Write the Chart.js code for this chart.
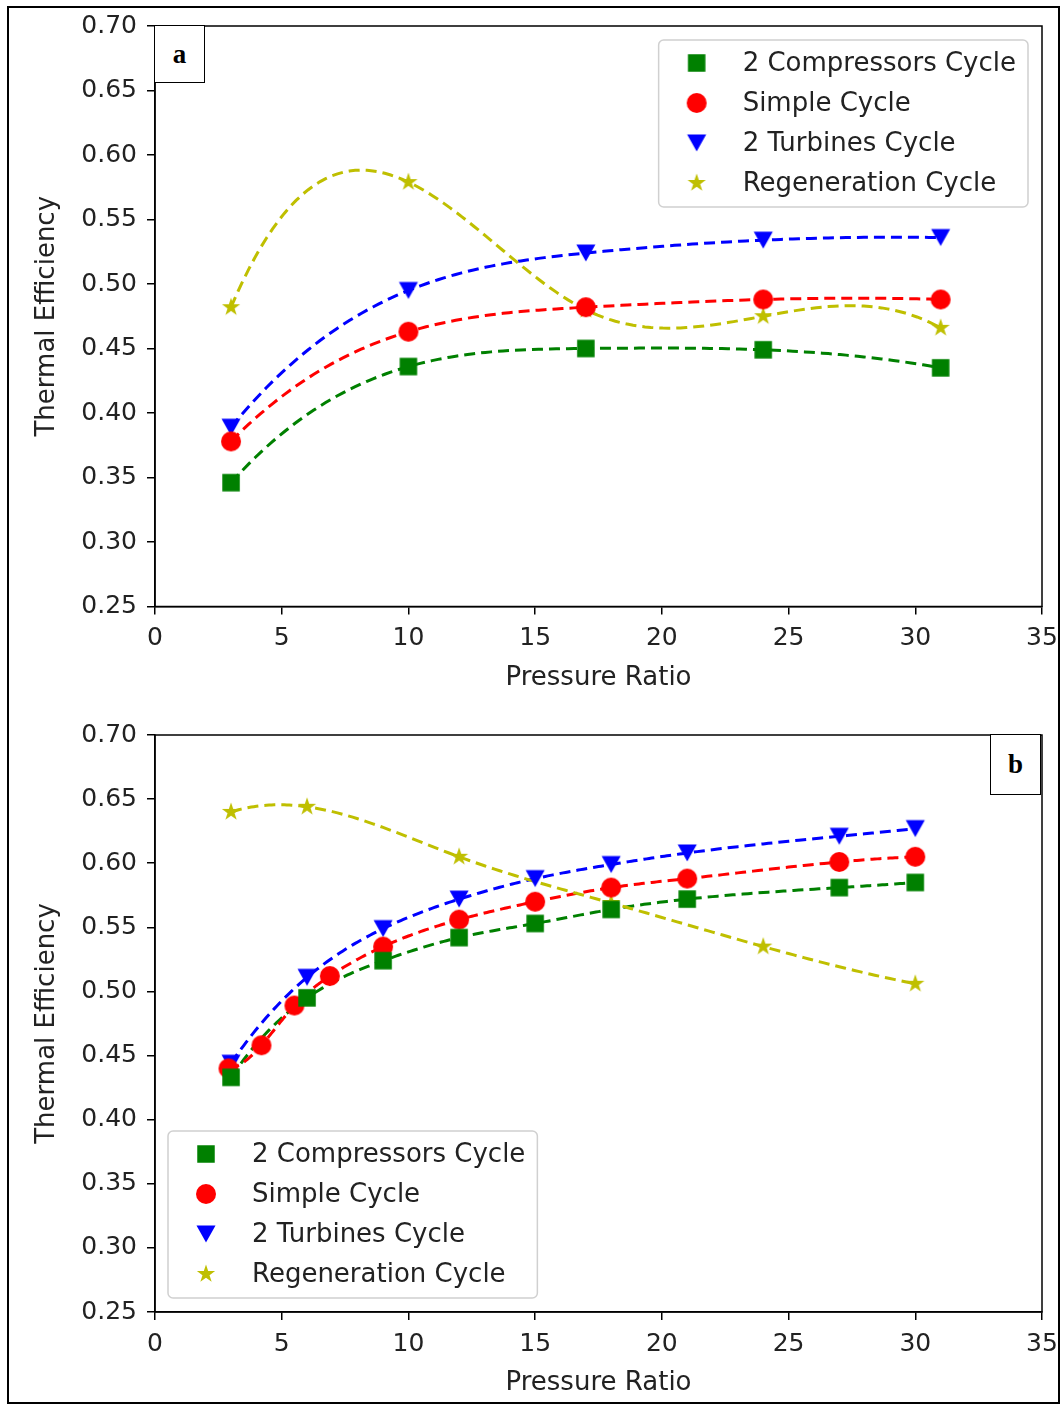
<!DOCTYPE html>
<html>
<head>
<meta charset="utf-8">
<script src="https://cdn.jsdelivr.net/npm/chart.js@4.4.0/dist/chart.umd.min.js"></script>
<style>
  body { margin: 0; background: #fff; }
  #wrap { position: relative; width: 1062px; height: 1406px; }
  #frame { position: absolute; left: 7px; top: 6px; width: 1053px; height: 1398px; border: 2px solid #000; box-sizing: border-box; }
  canvas { position: absolute; left: 0; }
  .tag { position: absolute; width: 51px; height: 58px; border: 1.5px solid #000; box-sizing: border-box; background: #fff;
         font: bold 27px "Liberation Serif", "Times New Roman", serif; display: flex; align-items: center; justify-content: center; }
</style>
</head>
<body>
<div id="wrap">
  <div id="frame"></div>
  <canvas id="chartA" width="1062" height="703" style="top:0"></canvas>
  <canvas id="chartB" width="1062" height="703" style="top:703px"></canvas>
  <div class="tag" style="left:154px; top:25px">a</div>
  <div class="tag" style="left:990px; top:734px; height:61px">b</div>
</div>
<script>
// panel a : pressure ratio / thermal efficiency
const pressureA = [3, 10, 17, 24, 31]
const compA    = [0.346, 0.436, 0.450, 0.449, 0.435]
const simpleA  = [0.378, 0.463, 0.482, 0.488, 0.488]
const turbA    = [0.389, 0.495, 0.524, 0.534, 0.536]
const regenA   = [0.482, 0.579, 0.480, 0.475, 0.466]

// panel b
const compXB   = [3, 6, 9, 12, 15, 18, 21, 27, 30]
const compB    = [0.433, 0.495, 0.524, 0.542, 0.553, 0.564, 0.572, 0.581, 0.585]
const simpleXB = [2.9, 4.2, 5.5, 6.9, 9, 12, 15, 18, 21, 27, 30]
const simpleB  = [0.440, 0.458, 0.489, 0.512, 0.535, 0.556, 0.570, 0.581, 0.588, 0.601, 0.605]
const turbXB   = [3, 6, 9, 12, 15, 18, 21, 27, 30]
const turbB    = [0.444, 0.511, 0.549, 0.572, 0.588, 0.599, 0.608, 0.621, 0.627]
const regenXB  = [3, 6, 12, 18, 24, 30]
const regenB   = [0.640, 0.644, 0.605, 0.569, 0.535, 0.506]

const labels = ['2 Compressors Cycle', 'Simple Cycle', '2 Turbines Cycle', 'Regeneration Cycle']
const colors = ['#008000', '#ff0000', '#0000ff', '#bfbf00']
const kinds  = ['square', 'circle', 'tri', 'star']

const FONT = 'DejaVu Sans'

function makeMarker(kind, color) {
  const c = document.createElement('canvas')
  c.width = 26; c.height = 26
  const g = c.getContext('2d')
  const m = 13
  g.fillStyle = color
  g.beginPath()
  if (kind === 'square') g.rect(m - 8.75, m - 8.75, 17.5, 17.5)
  else if (kind === 'circle') g.arc(m, m, 10, 0, Math.PI * 2)
  else if (kind === 'tri') { g.moveTo(m - 9.5, m - 8.5); g.lineTo(m + 9.5, m - 8.5); g.lineTo(m, m + 8.5); g.closePath() }
  else {
    for (let k = 0; k < 10; k++) {
      const r = k % 2 ? 3.7 : 9.6
      const a = -Math.PI / 2 + k * Math.PI / 5
      g.lineTo(m + r * Math.cos(a), m + r * Math.sin(a))
    }
    g.closePath()
  }
  g.fill()
  return c
}
const markers = kinds.map((k, i) => makeMarker(k, colors[i]))

const pts = (xs, ys) => xs.map((x, i) => ({x: x, y: ys[i]}))

function makeSets(series) {
  return series.map((s, i) => ({
    label: labels[i],
    data: pts(s[0], s[1]),
    pointStyle: markers[i],
    borderColor: colors[i],
    backgroundColor: colors[i],
    lineColor: colors[i]
  }))
}

// not-a-knot cubic spline second derivatives
function splineM(xs, ys) {
  const n = xs.length
  const h = []
  for (let i = 0; i < n - 1; i++) h.push(xs[i + 1] - xs[i])
  const A = [], b = []
  for (let i = 0; i < n; i++) { A.push(new Array(n).fill(0)); b.push(0) }
  if (n < 4) {
    A[0][0] = 1; A[n - 1][n - 1] = 1
  } else {
    A[0][0] = -h[1]; A[0][1] = h[0] + h[1]; A[0][2] = -h[0]
    A[n - 1][n - 3] = -h[n - 2]; A[n - 1][n - 2] = h[n - 3] + h[n - 2]; A[n - 1][n - 1] = -h[n - 3]
  }
  for (let i = 1; i < n - 1; i++) {
    A[i][i - 1] = h[i - 1]
    A[i][i] = 2 * (h[i - 1] + h[i])
    A[i][i + 1] = h[i]
    b[i] = 6 * ((ys[i + 1] - ys[i]) / h[i] - (ys[i] - ys[i - 1]) / h[i - 1])
  }
  for (let c = 0; c < n; c++) {
    let p = c
    for (let r = c + 1; r < n; r++) if (Math.abs(A[r][c]) > Math.abs(A[p][c])) p = r
    ;[A[c], A[p]] = [A[p], A[c]]; [b[c], b[p]] = [b[p], b[c]]
    for (let r = c + 1; r < n; r++) {
      const f = A[r][c] / A[c][c]
      for (let k = c; k < n; k++) A[r][k] -= f * A[c][k]
      b[r] -= f * b[c]
    }
  }
  const M = new Array(n).fill(0)
  for (let r = n - 1; r >= 0; r--) {
    let s = b[r]
    for (let k = r + 1; k < n; k++) s -= A[r][k] * M[k]
    M[r] = s / A[r][r]
  }
  return M
}

const splinePlugin = {
  id: 'splineLines',
  beforeDatasetsDraw(chart) {
    const ctx = chart.ctx
    chart.data.datasets.forEach((ds, i) => {
      const el = chart.getDatasetMeta(i).data
      const xs = el.map(p => p.x), ys = el.map(p => p.y)
      const M = splineM(xs, ys)
      ctx.save()
      ctx.strokeStyle = ds.lineColor
      ctx.lineWidth = 3
      ctx.setLineDash([11, 6])
      ctx.beginPath()
      ctx.moveTo(xs[0], ys[0])
      for (let k = 0; k < xs.length - 1; k++) {
        const hh = xs[k + 1] - xs[k]
        for (let s = 1; s <= 30; s++) {
          const x = xs[k] + hh * s / 30
          const a = xs[k + 1] - x, bb = x - xs[k]
          const y = M[k] * a * a * a / (6 * hh) + M[k + 1] * bb * bb * bb / (6 * hh) +
                    (ys[k] / hh - M[k] * hh / 6) * a + (ys[k + 1] / hh - M[k + 1] * hh / 6) * bb
          ctx.lineTo(x, y)
        }
      }
      ctx.stroke()
      ctx.restore()
    })
  }
}

const framePlugin = {
  id: 'boxFrame',
  afterDraw(chart) {
    const {ctx, chartArea: a} = chart
    ctx.save()
    ctx.strokeStyle = '#000'
    ctx.lineWidth = 1.5
    ctx.strokeRect(a.left, a.top, a.right - a.left, a.bottom - a.top)
    ctx.restore()
  }
}

const legendPlugin = {
  id: 'boxLegend',
  afterDraw(chart, args, opts) {
    const {ctx, chartArea: a} = chart
    ctx.save()
    ctx.font = '26px "' + FONT + '"'
    const tw = Math.max(...chart.data.datasets.map(d => ctx.measureText(d.label).width))
    const w = 84 + tw + 12, h = 167
    let left, top
    if (opts.corner === 'tr') { left = a.right - 14 - w; top = a.top + 14 }
    else { left = a.left + 13; top = a.bottom - 14 - h }
    ctx.fillStyle = 'rgba(255,255,255,0.8)'
    ctx.strokeStyle = '#d0d0d0'
    ctx.lineWidth = 1.5
    ctx.beginPath()
    ctx.roundRect(left, top, w, h, 5)
    ctx.fill()
    ctx.stroke()
    ctx.fillStyle = '#222'
    ctx.textBaseline = 'middle'
    chart.data.datasets.forEach((d, i) => {
      const cy = top + 23 + i * 40
      ctx.drawImage(d.pointStyle, left + 38 - 13, cy - 13)
      ctx.fillText(d.label, left + 84, cy + 1)
    })
    ctx.restore()
  }
}

function makeChart(id, datasets, cfg) {
  return new Chart(document.getElementById(id), {
    type: 'scatter',
    data: {datasets: datasets},
    options: {
      responsive: false,
      animation: false,
      devicePixelRatio: 1,
      layout: {padding: {top: cfg.top, right: 20, left: 0, bottom: 0}},
      plugins: {
        legend: {display: false},
        tooltip: {enabled: false},
        boxLegend: {corner: cfg.corner}
      },
      scales: {
        x: {
          type: 'linear', min: 0, max: 35,
          ticks: {stepSize: 5, color: '#222', font: {family: FONT, size: 25}, padding: 9, maxRotation: 0},
          grid: {drawOnChartArea: false, drawTicks: true, tickLength: 8, color: '#000', lineWidth: 1.5},
          border: {color: '#000', width: 1.5},
          title: {display: true, text: 'Pressure Ratio', color: '#222', font: {family: FONT, size: 26}, padding: {bottom: cfg.titlePad}},
          afterFit: s => { s.height = cfg.xHeight; s.paddingLeft = 0; s.paddingRight = 0 }
        },
        y: {
          min: 0.25, max: 0.70,
          ticks: {stepSize: 0.05, color: '#222', font: {family: FONT, size: 25}, padding: 10, callback: v => v.toFixed(2)},
          grid: {drawOnChartArea: false, drawTicks: true, tickLength: 8, color: '#000', lineWidth: 1.5},
          border: {color: '#000', width: 1.5},
          title: {display: true, text: 'Thermal Efficiency', color: '#222', font: {family: FONT, size: 26}, padding: {top: 32}},
          afterFit: s => { s.width = 155 }
        }
      }
    },
    plugins: [splinePlugin, framePlugin, legendPlugin]
  })
}

const chartA = makeChart('chartA', makeSets([
  [pressureA, compA], [pressureA, simpleA], [pressureA, turbA], [pressureA, regenA]
]), {top: 26, xHeight: 96.5, titlePad: 9, corner: 'tr'})

const chartB = makeChart('chartB', makeSets([
  [compXB, compB], [simpleXB, simpleB], [turbXB, turbB], [regenXB, regenB]
]), {top: 32, xHeight: 94, titlePad: 7, corner: 'bl'})
</script>
</body>
</html>
